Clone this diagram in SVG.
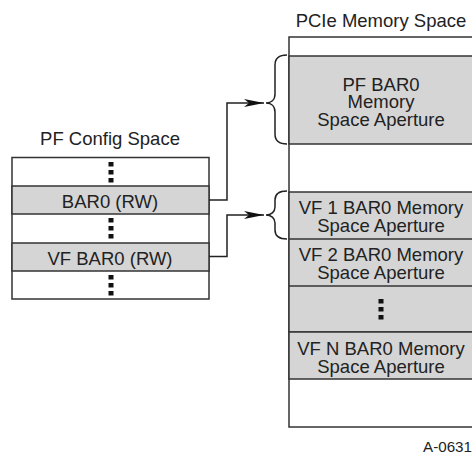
<svg xmlns="http://www.w3.org/2000/svg" width="472" height="457" viewBox="0 0 472 457">
<style>
text{font-family:"Liberation Sans",Arial,sans-serif;font-size:18.5px;fill:#222;text-anchor:middle}
.box{fill:#fff;stroke:#333;stroke-width:1.5}
.sh{fill:#d5d5d5;stroke:#333;stroke-width:1.5}
.dots{stroke:#111;stroke-width:5;stroke-dasharray:4.5 3.5;fill:none}
.conn{fill:none;stroke:#222;stroke-width:1.5}
.brace{fill:none;stroke:#222;stroke-width:1.5}
</style>
<defs>
<marker id="ah" viewBox="0 0 20 8" markerWidth="20" markerHeight="8" refX="20" refY="4" orient="auto" markerUnits="userSpaceOnUse">
<path d="M0,0 L20,4 L0,8 L5,4 z" fill="#111"/>
</marker>
</defs>

<text x="381" y="27">PCIe Memory Space</text>
<text x="110" y="145">PF Config Space</text>

<g id="pf-config-space">
<rect class="box" x="12" y="157.5" width="197" height="141.5"/>
<rect class="sh" x="12" y="186" width="197" height="28"/>
<rect class="sh" x="12" y="243" width="197" height="28"/>
<line class="dots" x1="111" y1="162" x2="111" y2="183"/>
<line class="dots" x1="111" y1="218" x2="111" y2="240"/>
<line class="dots" x1="111" y1="275" x2="111" y2="297"/>
</g>
<g id="bar0"><text x="110" y="208">BAR0 (RW)</text></g>
<g id="vf-bar0"><text x="110" y="265">VF BAR0 (RW)</text></g>

<g id="pcie-memory-space">
<rect class="box" x="289" y="37" width="190" height="390"/>
<rect class="sh" x="289" y="56" width="190" height="88"/>
<rect class="sh" x="289" y="192" width="190" height="140"/>
<line x1="289" y1="239" x2="479" y2="239" stroke="#333" stroke-width="1.5"/>
<line x1="289" y1="286" x2="479" y2="286" stroke="#333" stroke-width="1.5"/>
<rect class="sh" x="289" y="332" width="190" height="47"/>
<line class="dots" x1="381" y1="299" x2="381" y2="321"/>
</g>
<g id="pf-bar0-aperture">
<text x="381" y="90.5">PF BAR0<tspan x="381" dy="17.8">Memory</tspan><tspan x="381" dy="17.8">Space Aperture</tspan></text>
</g>
<g id="vf1-aperture">
<text x="381" y="213.5">VF 1 BAR0 Memory<tspan x="381" dy="18">Space Aperture</tspan></text>
</g>
<g id="vf2-aperture">
<text x="381" y="260.5">VF 2 BAR0 Memory<tspan x="381" dy="18">Space Aperture</tspan></text>
</g>
<g id="vfn-aperture">
<text x="381" y="354.5">VF N BAR0 Memory<tspan x="381" dy="18">Space Aperture</tspan></text>
</g>

<g id="connectors">
<path class="conn" d="M209,200 H227 V103 H264" marker-end="url(#ah)"/>
<path class="conn" d="M209,256.5 H227 V215 H264" marker-end="url(#ah)"/>
<path class="brace" d="M287,55 C279,55 275,58 275,65 L275,94 C275,100 271,103 266,103 C271,103 275,106 275,112 L275,134 C275,141 279,144 287,144"/>
<path class="brace" d="M287,191 C279,191 275,194 275,200 L275,207 C275,212 271,215 266,215 C271,215 275,218 275,223 L275,230 C275,236 279,239 287,239"/>
</g>

<text x="472" y="452" style="font-size:15px;text-anchor:end" textLength="49" lengthAdjust="spacingAndGlyphs">A-0631</text>
</svg>
